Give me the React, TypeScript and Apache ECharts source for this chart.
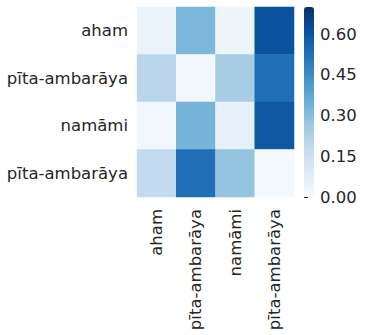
import React, { useEffect, useRef } from "react";
import * as echarts from "echarts";

const xCategories = ["aham", "pīta-ambarāya", "namāmi", "pīta-ambarāya"];
const yCategories = ["aham", "pīta-ambarāya", "namāmi", "pīta-ambarāya"];
// rows top -> bottom
const row0 = [0.04, 0.32, 0.03, 0.61];
const row1 = [0.2, 0.02, 0.24, 0.53];
const row2 = [0.02, 0.33, 0.06, 0.59];
const row3 = [0.18, 0.53, 0.28, 0.01];
const rows = [row0, row1, row2, row3];
const colorMin = 0;
const colorMax = 0.7;
const colorTicks = [0, 0.15, 0.3, 0.45, 0.6];

const BLUES = ["#f7fbff", "#deebf7", "#c6dbef", "#9ecae1", "#6baed6", "#4292c6", "#2171b5", "#08519c", "#08306b"];

export default function App() {
  const ref = useRef<HTMLDivElement>(null);
  useEffect(() => {
    const chart = echarts.init(ref.current!, undefined, { renderer: "svg" });
    const data: number[][] = [];
    rows.forEach((r, yi) => r.forEach((v, xi) => data.push([xi, yi, v])));
    const font = { fontFamily: "DejaVu Sans", fontSize: 16.5, color: "#262626" };
    chart.setOption({
      animation: false,
      backgroundColor: "#ffffff",
      grid: [
        { left: 137, top: 7, width: 157, height: 190 },
        { left: 304, top: 7, width: 10, height: 190 },
      ],
      xAxis: [
        {
          type: "category",
          data: xCategories,
          gridIndex: 0,
          position: "bottom",
          axisLine: { show: false },
          axisTick: { show: false },
          splitLine: { show: false },
          axisLabel: { ...font, rotate: 90, margin: 12, interval: 0 },
        },
        { type: "value", gridIndex: 1, show: false, min: 0, max: 1 },
      ],
      yAxis: [
        {
          type: "category",
          data: yCategories,
          gridIndex: 0,
          inverse: true,
          axisLine: { show: false },
          axisTick: { show: false },
          splitLine: { show: false },
          axisLabel: { ...font, margin: 9, interval: 0 },
        },
        {
          type: "value",
          gridIndex: 1,
          position: "right",
          min: colorMin,
          max: colorMax,
          interval: 0.15,
          axisLine: { show: false },
          splitLine: { show: false },
          axisTick: { show: true, length: 4, lineStyle: { color: "#262626", width: 1 } },
          axisLabel: {
            ...font,
            margin: 6,
            showMaxLabel: false,
            formatter: (v: number) => (colorTicks.some((t) => Math.abs(t - v) < 1e-6) ? v.toFixed(2) : ""),
          },
        },
      ],
      visualMap: {
        type: "continuous",
        min: colorMin,
        max: colorMax,
        seriesIndex: 0,
        calculable: false,
        show: true,
        orient: "vertical",
        left: 304,
        top: 7,
        padding: 0,
        itemWidth: 10,
        itemHeight: 190,
        text: ["", ""],
        textGap: 0,
        showLabel: false,
        inRange: { color: BLUES },
      },
      series: [
        {
          type: "heatmap",
          xAxisIndex: 0,
          yAxisIndex: 0,
          data,
          itemStyle: { borderWidth: 0 },
          emphasis: { disabled: true },
        },
      ],
    });
    return () => chart.dispose();
  }, []);
  return <div ref={ref} style={{ width: 367, height: 335, position: "absolute", left: 0, top: 0 }} />;
}
